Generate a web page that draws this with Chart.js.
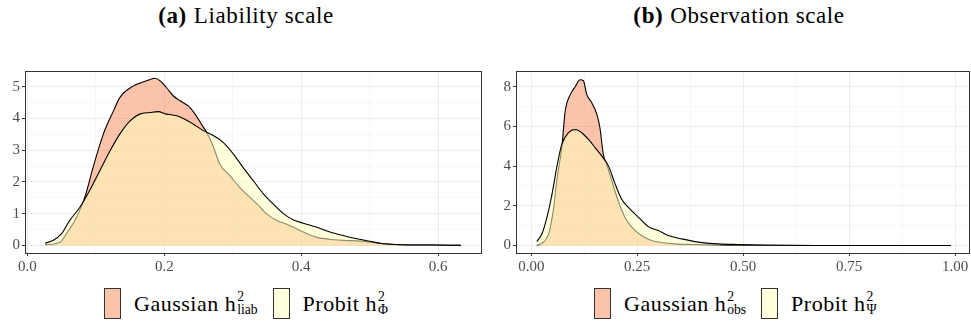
<!DOCTYPE html>
<html>
<head>
<meta charset="utf-8">
<script src="https://cdn.jsdelivr.net/npm/chart.js@4.4.1/dist/chart.umd.min.js"></script>
<style>
    body { margin: 0; background: #fff; width: 971px; height: 326px; position: relative; overflow: hidden; font-family: "Liberation Serif", serif; color: #000; }
    .titulo { position: absolute; top: 3px; font-size: 23px; letter-spacing: 0.6px; white-space: nowrap; transform: translateX(-50%); }
    .titulo b { margin-right: 7px; }
    .painel { position: absolute; top: 60px; height: 218px; }
    .legenda { position: absolute; top: 288px; font-size: 22px; letter-spacing: 0.5px; white-space: nowrap; display: flex; align-items: center; }
    .caixa { display: inline-block; width: 15px; height: 29px; border: 1px solid #333; margin-right: 13px; }
    .item { display: inline-flex; align-items: center; margin-right: 15px; }
    .ss { display: inline-block; vertical-align: -0.5em; font-size: 0.62em; line-height: 0.95; margin-left: 1px; letter-spacing: 0; }
    .ss span { display: block; }
</style>
</head>
<body>
<div class="titulo" style="left:246px"><b>(a)</b>Liability scale</div>
<div class="titulo" style="left:739px"><b>(b)</b>Observation scale</div>

<div class="painel" style="left:0; width:490px"><canvas id="graficoA" width="490" height="218"></canvas></div>
<div class="painel" style="left:490px; width:481px"><canvas id="graficoB" width="481" height="218"></canvas></div>

<div class="legenda" style="left:104px">
    <span class="item"><span class="caixa" style="background:#FBC3AA"></span>Gaussian h<span class="ss"><span>2</span><span>liab</span></span></span>
    <span class="item"><span class="caixa" style="background:#FFFFDD"></span>Probit h<span class="ss"><span>2</span><span>Φ</span></span></span>
</div>
<div class="legenda" style="left:594px">
    <span class="item"><span class="caixa" style="background:#FBC3AA"></span>Gaussian h<span class="ss"><span>2</span><span>obs</span></span></span>
    <span class="item"><span class="caixa" style="background:#FFFFDD"></span>Probit h<span class="ss"><span>2</span><span>Ψ</span></span></span>
</div>

<script>
// (a) escala de risco
const gaussLiabX = [0.026, 0.048, 0.057, 0.072, 0.084, 0.096, 0.111, 0.126, 0.135, 0.155, 0.174, 0.186, 0.194, 0.203, 0.213, 0.223, 0.235, 0.245, 0.254, 0.262, 0.272, 0.281, 0.296, 0.310, 0.330, 0.340, 0.349, 0.364, 0.383, 0.403, 0.422, 0.447, 0.471, 0.495, 0.520, 0.544, 0.593, 0.633];
const gaussLiabY = [0.02, 0.10, 0.37, 0.89, 1.52, 2.46, 3.51, 4.25, 4.66, 5.03, 5.19, 5.27, 5.19, 4.98, 4.72, 4.56, 4.40, 4.14, 3.83, 3.56, 3.09, 2.57, 2.20, 1.83, 1.42, 1.21, 1.00, 0.79, 0.63, 0.42, 0.26, 0.18, 0.15, 0.12, 0.05, 0.02, 0.01, 0.00];
const probitLiabX = [0.026, 0.038, 0.050, 0.062, 0.077, 0.091, 0.106, 0.121, 0.135, 0.150, 0.164, 0.179, 0.191, 0.203, 0.218, 0.230, 0.242, 0.257, 0.272, 0.286, 0.301, 0.315, 0.330, 0.345, 0.359, 0.374, 0.388, 0.403, 0.422, 0.442, 0.461, 0.481, 0.500, 0.520, 0.544, 0.593, 0.633];
const probitLiabY = [0.07, 0.16, 0.37, 0.79, 1.21, 1.73, 2.36, 2.99, 3.51, 3.93, 4.14, 4.19, 4.22, 4.14, 4.09, 3.98, 3.83, 3.62, 3.46, 3.25, 2.88, 2.46, 2.04, 1.62, 1.31, 1.00, 0.81, 0.70, 0.58, 0.42, 0.31, 0.21, 0.13, 0.05, 0.02, 0.01, 0.00];

// (b) escala observada
const gaussObsX = [0.013, 0.029, 0.041, 0.053, 0.060, 0.072, 0.080, 0.092, 0.104, 0.115, 0.123, 0.131, 0.143, 0.155, 0.162, 0.170, 0.178, 0.190, 0.205, 0.221, 0.237, 0.260, 0.284, 0.307, 0.339, 0.378, 0.441, 0.519, 0.990];
const gaussObsY = [0.00, 0.17, 0.58, 1.92, 3.26, 4.92, 6.76, 7.60, 8.01, 8.35, 8.30, 7.60, 7.18, 6.59, 5.93, 4.59, 4.09, 3.26, 2.25, 1.42, 0.92, 0.50, 0.25, 0.15, 0.08, 0.05, 0.02, 0.00, 0.00];
const probitObsX = [0.013, 0.025, 0.037, 0.049, 0.060, 0.072, 0.088, 0.104, 0.119, 0.135, 0.151, 0.166, 0.182, 0.198, 0.213, 0.229, 0.253, 0.276, 0.300, 0.323, 0.355, 0.394, 0.441, 0.488, 0.558, 0.676, 0.990];
const probitObsY = [0.20, 0.58, 1.42, 2.59, 3.92, 5.09, 5.68, 5.84, 5.68, 5.34, 4.92, 4.51, 4.01, 3.09, 2.34, 1.92, 1.42, 0.95, 0.75, 0.50, 0.33, 0.17, 0.08, 0.05, 0.02, 0.00, 0.00];

// ticks
const xTicksA = [0, 0.1, 0.2, 0.3, 0.4, 0.5, 0.6];
const xLabelsA = [0, 0.2, 0.4, 0.6];
const yTicksA = [0, 0.5, 1, 1.5, 2, 2.5, 3, 3.5, 4, 4.5, 5];
const yLabelsA = [0, 1, 2, 3, 4, 5];
const xTicksB = [0, 0.125, 0.25, 0.375, 0.5, 0.625, 0.75, 0.875, 1];
const xLabelsB = [0, 0.25, 0.5, 0.75, 1];
const yTicksB = [0, 1, 2, 3, 4, 5, 6, 7, 8];
const yLabelsB = [0, 2, 4, 6, 8];

const corGauss = 'rgba(247,135,85,0.5)';
const corProbit = 'rgba(255,255,190,0.55)';

function pontos(xs, ys) {
    return xs.map((x, i) => ({ x: x, y: ys[i] }));
}

function ehMajor(valor, lista) {
    return lista.some(v => Math.abs(v - valor) < 1e-9);
}

const bordaPainel = {
    id: 'bordaPainel',
    afterDraw(chart) {
        const a = chart.chartArea;
        const ctx = chart.ctx;
        ctx.save();
        ctx.strokeStyle = '#333333';
        ctx.lineWidth = 1;
        ctx.strokeRect(Math.round(a.left) + 0.5, Math.round(a.top) + 0.5, Math.round(a.right - a.left) - 1, Math.round(a.bottom - a.top));
        ctx.restore();
    }
};

function getEixo(ticks, labels, min, max, casas, tamanho, ehX) {
    return {
        type: 'linear',
        min: min,
        max: max,
        border: { display: false },
        afterBuildTicks: scale => { scale.ticks = ticks.map(v => ({ value: v })); },
        afterFit: scale => {
            if (ehX) scale.height = tamanho; else scale.width = tamanho;
        },
        grid: {
            color: ctx => ehMajor(ctx.tick.value, labels) ? '#EBEBEB' : '#F3F3F3',
            lineWidth: ctx => ehMajor(ctx.tick.value, labels) ? 1 : 0.7,
            tickColor: ctx => ehMajor(ctx.tick.value, labels) ? '#333333' : 'rgba(0,0,0,0)',
            tickLength: 3,
            drawTicks: true
        },
        ticks: {
            autoSkip: false,
            maxRotation: 0,
            padding: 2,
            color: '#4D4D4D',
            font: { family: '"Liberation Serif", serif', size: 15 },
            callback: v => ehMajor(v, labels) ? v.toFixed(casas) : ''
        }
    };
}

function getGraficoConfig(dadosGauss, dadosProbit, eixoX, eixoY, padding) {
    return {
        type: 'line',
        data: {
            datasets: [{
                label: 'Gaussian',
                data: dadosGauss,
                backgroundColor: corGauss,
                borderColor: '#000000',
                borderWidth: 1.1,
                fill: 'origin',
                pointRadius: 0,
                cubicInterpolationMode: 'monotone',
                order: 2
            }, {
                label: 'Probit',
                data: dadosProbit,
                backgroundColor: corProbit,
                borderColor: '#000000',
                borderWidth: 1.1,
                fill: 'origin',
                pointRadius: 0,
                cubicInterpolationMode: 'monotone',
                order: 1
            }]
        },
        options: {
            responsive: false,
            animation: false,
            layout: { padding: padding },
            plugins: {
                legend: { display: false },
                tooltip: { enabled: false }
            },
            scales: { x: eixoX, y: eixoY }
        },
        plugins: [bordaPainel]
    };
}

new Chart(document.getElementById('graficoA').getContext('2d'), getGraficoConfig(
    pontos(gaussLiabX, gaussLiabY),
    pontos(probitLiabX, probitLiabY),
    getEixo(xTicksA, xLabelsA, -0.0034, 0.664, 1, 25, true),
    getEixo(yTicksA, yLabelsA, -0.24, 5.5, 0, 25, false),
    { top: 10, right: 8, left: 0, bottom: 0 }
));

new Chart(document.getElementById('graficoB').getContext('2d'), getGraficoConfig(
    pontos(gaussObsX, gaussObsY),
    pontos(probitObsX, probitObsY),
    getEixo(xTicksB, xLabelsB, -0.036, 1.035, 2, 25, true),
    getEixo(yTicksB, yLabelsB, -0.38, 8.79, 0, 26, false),
    { top: 10, right: 1, left: 0, bottom: 0 }
));
</script>
</body>
</html>
